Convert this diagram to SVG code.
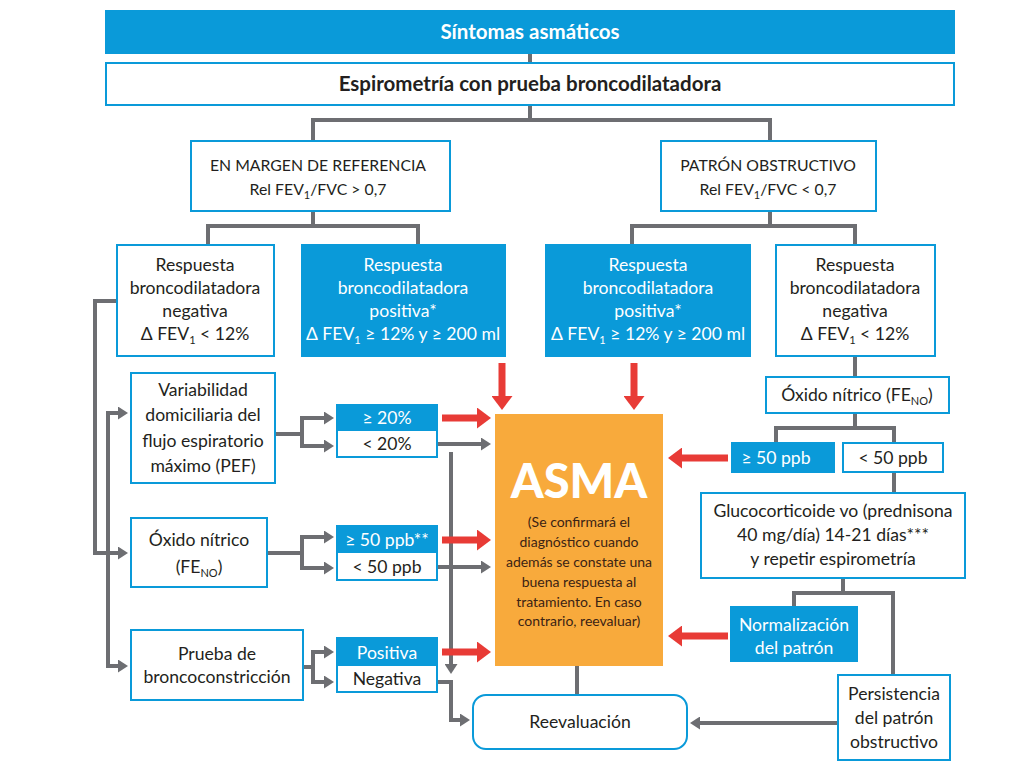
<svg xmlns="http://www.w3.org/2000/svg" width="1024" height="768" viewBox="0 0 1024 768">
<defs>
<style>
text{font-family:Lato,"Open Sans","Liberation Sans",sans-serif;fill:#231f20;text-anchor:middle;font-size:17.6px}
.b{font-weight:bold;font-size:20.5px}
.w{fill:#fff}
.box{fill:#fff;stroke:#0a9ad9;stroke-width:2}
.blue{fill:#0a9ad9;stroke:#0a9ad9;stroke-width:2}
.con{fill:none;stroke:#6d6e72;stroke-width:4}
.ga{fill:none;stroke:#6d6e72;stroke-width:4;marker-end:url(#gh)}
.ra{fill:none;stroke:#e83b36;stroke-width:7;marker-end:url(#rh)}
.sub{font-size:11px}
.hd{font-size:15.8px}
.asma{font-size:14px;fill:#3b2314}
</style>
<marker id="gh" markerUnits="userSpaceOnUse" markerWidth="10" markerHeight="13" refX="0" refY="6.5" orient="auto"><path d="M0,0 L10,6.5 L0,13 z" fill="#6d6e72"/></marker>
<marker id="rh" markerUnits="userSpaceOnUse" markerWidth="14" markerHeight="21" refX="0" refY="10.5" orient="auto"><path d="M0,0 L14,10.5 L0,21 z" fill="#e83b36"/></marker>
</defs>
<rect width="1024" height="768" fill="#fff"/>

<g id="connectors">
<path class="con" d="M530,54 V63 M530,105 V120 M313,120 H770 M313,118 V141 M770,118 V141"/>
<path class="con" d="M313,211 V226 M206,226 H420 M208,224 V245 M418,224 V245"/>
<path class="con" d="M770,211 V226 M630,226 H857 M632,224 V245 M855,224 V245"/>
<path class="con" d="M855,356 V377 M855,413 V428 M774,428 H896 M776,426 V443 M894,426 V443 M894,472 V493"/>
<path class="con" d="M843,578 V593 M792,593 H895 M794,591 V607 M893,591 V675 M577,666 V695"/>
<path class="ga" d="M838,723 H700"/>
<path class="con" d="M117,301 H95 V553"/>
<path class="ga" d="M93,553 H118"/>
<path class="con" d="M108,411 V666"/>
<path class="ga" d="M106,413 H118"/>
<path class="ga" d="M106,666 H118"/>
<path class="con" d="M275,434 H302 M302,416 V448"/>
<path class="ga" d="M300,418 H324"/>
<path class="ga" d="M300,446 H324"/>
<path class="con" d="M267,553 H302 M302,535 V570"/>
<path class="ga" d="M300,537 H324"/>
<path class="ga" d="M300,568 H324"/>
<path class="con" d="M303,667 H313 M313,650 V684"/>
<path class="ga" d="M311,652 H324"/>
<path class="ga" d="M311,682 H324"/>
<path class="ga" d="M437,444 H481"/>
<path class="ga" d="M437,567 H481"/>
<path class="ga" d="M451,452 V664"/>
<path class="ga" d="M437,682 H451 V720 H460"/>
<path class="ra" d="M502,363 V396"/>
<path class="ra" d="M634,363 V396"/>
<path class="ra" d="M442,418 H477"/>
<path class="ra" d="M442,540 H477"/>
<path class="ra" d="M442,652 H477"/>
<path class="ra" d="M728,458 H682"/>
<path class="ra" d="M728,636 H682"/>
</g>

<g id="sintomas">
<rect x="105" y="10" width="850" height="44" fill="#0a9ad9"/>
<text class="b w" x="530" y="39">Síntomas asmáticos</text>
</g>
<g id="espirometria">
<rect class="box" x="106" y="63" width="848" height="42"/>
<text class="b" x="530" y="91">Espirometría con prueba broncodilatadora</text>
</g>
<g id="margen">
<rect class="box" x="191" y="141" width="259" height="70"/>
<text class="hd" x="318" y="171">EN MARGEN DE REFERENCIA</text>
<text class="hd" x="318" y="195">Rel FEV<tspan class="sub" dy="4">1</tspan><tspan dy="-4">/FVC &gt; 0,7</tspan></text>
</g>
<g id="patron">
<rect class="box" x="661" y="141" width="215" height="70"/>
<text class="hd" x="768" y="171">PATRÓN OBSTRUCTIVO</text>
<text class="hd" x="768" y="195">Rel FEV<tspan class="sub" dy="4">1</tspan><tspan dy="-4">/FVC &lt; 0,7</tspan></text>
</g>
<g id="resp-neg-izq">
<rect class="box" x="117" y="245" width="157" height="111"/>
<text x="195" y="271">Respuesta</text>
<text x="195" y="294">broncodilatadora</text>
<text x="195" y="317">negativa</text>
<text x="195" y="340">Δ FEV<tspan class="sub" dy="4">1</tspan><tspan dy="-4"> &lt; 12%</tspan></text>
</g>
<g id="resp-pos-izq">
<rect class="blue" x="302" y="245" width="203" height="111"/>
<text class="w" x="403" y="271">Respuesta</text>
<text class="w" x="403" y="294">broncodilatadora</text>
<text class="w" x="403" y="317">positiva*</text>
<text class="w" x="403" y="340">Δ FEV<tspan class="sub w" dy="4">1</tspan><tspan dy="-4"> ≥ 12% y ≥ 200 ml</tspan></text>
</g>
<g id="resp-pos-der">
<rect class="blue" x="546" y="245" width="204" height="111"/>
<text class="w" x="648" y="271">Respuesta</text>
<text class="w" x="648" y="294">broncodilatadora</text>
<text class="w" x="648" y="317">positiva*</text>
<text class="w" x="648" y="340">Δ FEV<tspan class="sub w" dy="4">1</tspan><tspan dy="-4"> ≥ 12% y ≥ 200 ml</tspan></text>
</g>
<g id="resp-neg-der">
<rect class="box" x="776" y="245" width="159" height="111"/>
<text x="855" y="271">Respuesta</text>
<text x="855" y="294">broncodilatadora</text>
<text x="855" y="317">negativa</text>
<text x="855" y="340">Δ FEV<tspan class="sub" dy="4">1</tspan><tspan dy="-4"> &lt; 12%</tspan></text>
</g>
<g id="oxido-der">
<rect class="box" x="766" y="377" width="183" height="36"/>
<text x="857" y="401">Óxido nítrico (FE<tspan class="sub" dy="4">NO</tspan><tspan dy="-4">)</tspan></text>
</g>
<g id="ge50-der">
<rect class="blue" x="732" y="443" width="102" height="29"/>
<text class="w" x="776" y="464">≥ 50 ppb</text>
</g>
<g id="lt50-der">
<rect class="box" x="843" y="443" width="100" height="29"/>
<text x="893" y="464">&lt; 50 ppb</text>
</g>
<g id="glucocorticoide">
<rect class="box" x="701" y="493" width="264" height="85"/>
<text x="833" y="517">Glucocorticoide vo (prednisona</text>
<text x="833" y="541">40 mg/día) 14-21 días***</text>
<text x="833" y="565">y repetir espirometría</text>
</g>
<g id="normalizacion">
<rect class="blue" x="731" y="607" width="126" height="54"/>
<text class="w" x="794" y="631">Normalización</text>
<text class="w" x="794" y="654">del patrón</text>
</g>
<g id="persistencia">
<rect class="box" x="838" y="675" width="112" height="85"/>
<text x="894" y="700">Persistencia</text>
<text x="894" y="724">del patrón</text>
<text x="894" y="748">obstructivo</text>
</g>
<g id="reevaluacion">
<rect class="box" x="473" y="695" width="214" height="54" rx="13"/>
<text x="580" y="728">Reevaluación</text>
</g>
<g id="asma">
<rect x="495" y="414" width="168" height="252" fill="#f8aa3c"/>
<text x="579" y="498" style="font-size:47px;font-weight:900;fill:#fff">ASMA</text>
<text class="asma" x="579" y="527">(Se confirmará el</text>
<text class="asma" x="579" y="547">diagnóstico cuando</text>
<text class="asma" x="579" y="567">además se constate una</text>
<text class="asma" x="579" y="587">buena respuesta al</text>
<text class="asma" x="579" y="607">tratamiento. En caso</text>
<text class="asma" x="579" y="626">contrario, reevaluar)</text>
</g>
<g id="variabilidad">
<rect class="box" x="131" y="373" width="144" height="110"/>
<text x="203" y="396">Variabilidad</text>
<text x="203" y="421">domiciliaria del</text>
<text x="203" y="447">flujo espiratorio</text>
<text x="203" y="472">máximo (PEF)</text>
</g>
<g id="pef-resultado">
<rect class="box" x="337" y="405" width="100" height="52"/>
<rect x="337" y="405" width="100" height="26" fill="#0a9ad9"/>
<text class="w" x="387" y="424">≥ 20%</text>
<text x="387" y="450">&lt; 20%</text>
</g>
<g id="oxido-izq">
<rect class="box" x="131" y="518" width="136" height="69"/>
<text x="199" y="546">Óxido nítrico</text>
<text x="199" y="573">(FE<tspan class="sub" dy="4">NO</tspan><tspan dy="-4">)</tspan></text>
</g>
<g id="feno-resultado">
<rect class="box" x="337" y="526" width="100" height="54"/>
<rect x="337" y="526" width="100" height="27" fill="#0a9ad9"/>
<text class="w" x="387" y="546">≥ 50 ppb**</text>
<text x="387" y="573">&lt; 50 ppb</text>
</g>
<g id="prueba">
<rect class="box" x="131" y="630" width="172" height="70"/>
<text x="217" y="660">Prueba de</text>
<text x="217" y="683">broncoconstricción</text>
</g>
<g id="prueba-resultado">
<rect class="box" x="337" y="638" width="100" height="54"/>
<rect x="337" y="638" width="100" height="28" fill="#0a9ad9"/>
<text class="w" x="387" y="659">Positiva</text>
<text x="387" y="685">Negativa</text>
</g>
</svg>
